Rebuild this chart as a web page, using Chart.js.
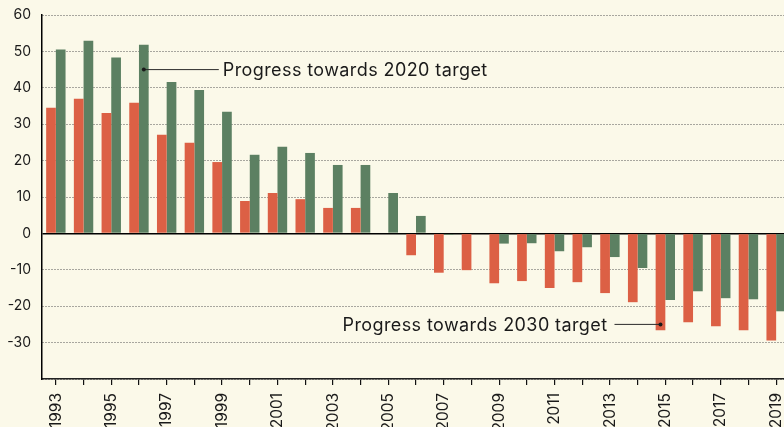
<!DOCTYPE html>
<html>
<head>
<meta charset="utf-8">
<script src="https://cdn.jsdelivr.net/npm/chart.js@4/dist/chart.umd.min.js"></script>
<style>
  html, body { margin: 0; padding: 0; background: #fbf9e9; overflow: hidden; width: 784px; height: 427px; }
  #wrap { position: absolute; left: 0; top: 0; width: 800px; height: 427px; }
</style>
</head>
<body>
<div id="wrap"><canvas id="c"></canvas></div>
<script>
const years = ['1993','1994','1995','1996','1997','1998','1999','2000','2001','2002','2003','2004','2005','2006','2007','2008','2009','2010','2011','2012','2013','2014','2015','2016','2017','2018','2019'];
const progress2030 = [34.5, 37.0, 33.1, 35.9, 27.1, 24.9, 19.6, 8.9, 11.1, 9.4, 7.0, 7.0, 0, -6.0, -10.8, -10.1, -13.7, -13.1, -15.0, -13.4, -16.4, -18.9, -26.6, -24.4, -25.5, -26.6, -29.4];
const progress2020 = [50.5, 52.9, 48.3, 51.8, 41.6, 39.4, 33.4, 21.6, 23.8, 22.1, 18.8, 18.8, 11.1, 4.8, -0.4, 0, -2.8, -2.7, -4.9, -3.8, -6.5, -9.5, -18.3, -15.9, -17.8, -18.1, -21.4];
const label2020 = 'Progress towards 2020 target';
const label2030 = 'Progress towards 2030 target';
const note2020 = { year: '1996', value: 45 };
const note2030 = { year: '2015', value: -25 };

const FONT = 'Inter, "DejaVu Sans", sans-serif';

const notes = {
  id: 'notes',
  afterDatasetsDraw(chart) {
    const ctx = chart.ctx;
    const y = chart.scales.y;
    const m0 = chart.getDatasetMeta(0), m1 = chart.getDatasetMeta(1);
    ctx.save();
    ctx.strokeStyle = '#2a2a2a';
    ctx.fillStyle = '#1a1a1a';
    ctx.lineWidth = 1;
    ctx.font = '18px ' + FONT;
    try { ctx.letterSpacing = '0.4px'; } catch (e) {}
    ctx.textBaseline = 'middle';
    // 2020 note
    let b = m1.data[years.indexOf(note2020.year)];
    let px = b.x, py = y.getPixelForValue(note2020.value);
    ctx.beginPath(); ctx.moveTo(px, py); ctx.lineTo(px + 75, py); ctx.stroke();
    ctx.beginPath(); ctx.arc(px, py, 2, 0, Math.PI * 2); ctx.fill();
    ctx.textAlign = 'left';
    ctx.fillText(label2020, px + 79, py + 1);
    // 2030 note
    b = m0.data[years.indexOf(note2030.year)];
    px = b.x; py = y.getPixelForValue(note2030.value);
    ctx.beginPath(); ctx.moveTo(px, py); ctx.lineTo(px - 46, py); ctx.stroke();
    ctx.beginPath(); ctx.arc(px, py, 2, 0, Math.PI * 2); ctx.fill();
    ctx.textAlign = 'right';
    ctx.fillText(label2030, px - 53, py + 1);
    ctx.restore();
  }
};

new Chart(document.getElementById('c'), {
  type: 'bar',
  data: {
    labels: years,
    datasets: [
      { label: label2030, data: progress2030, backgroundColor: '#dc6045', categoryPercentage: 0.7, barPercentage: 1.0 },
      { label: label2020, data: progress2020, backgroundColor: '#5c8062', categoryPercentage: 0.7, barPercentage: 1.0 }
    ]
  },
  options: {
    responsive: true,
    maintainAspectRatio: false,
    animation: false,
    layout: { padding: { left: 6, top: 15, right: 10, bottom: 0 } },
    plugins: { legend: { display: false }, tooltip: { enabled: false } },
    scales: {
      x: {
        afterFit: (s) => { s.height = 48; s.paddingLeft = 0; s.paddingRight = 0; },
        grid: { display: true, drawOnChartArea: false, drawTicks: true, tickLength: 6, offset: false, color: '#111', lineWidth: 1.2 },
        border: { display: true, color: '#222', width: 1.5 },
        ticks: {
          autoSkip: false, minRotation: 90, maxRotation: 90, padding: 8,
          color: '#1a1a1a', font: { family: FONT, size: 15.5 },
          callback: function(v, i) { return i % 2 === 0 ? this.getLabelForValue(v) : ''; }
        }
      },
      y: {
        min: -40, max: 60,
        afterFit: (s) => { s.width = 36; s.paddingTop = 0; s.paddingBottom = 0; },
        grid: {
          drawTicks: false,
          color: (c) => (c.tick && c.tick.value === 0) ? '#000' : '#555',
          lineWidth: (c) => (c.tick && c.tick.value === 0) ? 1.5 : 1
        },
        border: { display: true, color: '#000', width: 1.5, dash: (c) => (c.tick && c.tick.value === 0) ? [] : [1, 2] },
        ticks: {
          stepSize: 10, padding: 11, color: '#1a1a1a', font: { family: FONT, size: 14 },
          callback: (v) => v === -40 ? '' : String(v)
        }
      }
    }
  },
  plugins: [notes]
});
</script>
</body>
</html>
